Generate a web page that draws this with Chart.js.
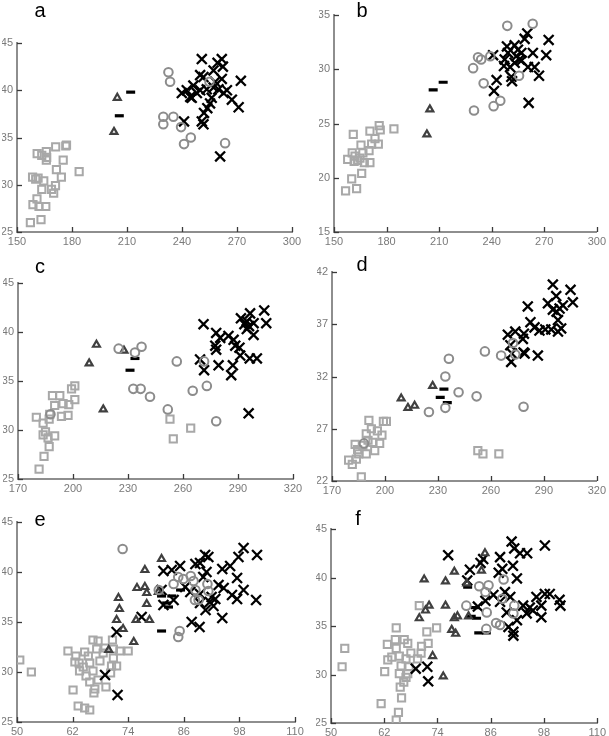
<!DOCTYPE html>
<html><head><meta charset="utf-8">
<script src="https://cdn.jsdelivr.net/npm/chart.js@4/dist/chart.umd.min.js"></script>
<style>
html,body{margin:0;padding:0;background:#fff;}
#wrap{position:relative;width:609px;height:736px;overflow:hidden;background:#fff;}
#wrap canvas{position:absolute;left:0;top:0;}
.lbl{position:absolute;font:20px "Liberation Sans",Arial,sans-serif;color:#000;line-height:1;transform:translate(-50%,-50%);}
</style></head><body><div id="wrap"></div>
<script>
// ---------- tick labels ----------
const ticksX_ab = [150,180,210,240,270,300];
const ticksX_cd = [170,200,230,260,290,320];
const ticksX_ef = [50,62,74,86,98,110];
const ticksY_a = [25,30,35,40,45];
const ticksY_b = [15,20,25,30,35];
const ticksY_c = [25,30,35,40,45];
const ticksY_d = [22,27,32,37,42];
const ticksY_ef = [25,30,35,40,45];
const panelNames = ['a','b','c','d','e','f'];

// ---------- panel a ----------
const a_squares = [[157.3,26.0],[163.1,26.3],[160.9,28.5],[158.7,27.9],[162,27.7],[165.7,27.7],[160.2,30.6],[161.5,30.7],[164.6,30.4],[163.5,29.5],[168.8,29.5],[170,29.1],[171,29.9],[174.2,30.8],[171.5,31.6],[175.2,32.6],[166,32.6],[166.2,32.9],[161,33.3],[166,33.5],[171.1,34.0],[176.6,34.1],[177,34.2],[183.9,31.4],[163.5,33.1],[158.5,30.8]];
const a_triangles = [[204.7,39.2],[202.9,35.6]];
const a_dashes = [[212,39.8],[205.8,37.3]];
const a_circles = [[232.6,41.9],[233.5,40.9],[229.8,37.2],[235.3,37.2],[229.8,36.4],[239.5,36.1],[244.8,35.0],[241.1,34.3],[263.5,34.4],[255,40.9]];
const a_crosses = [[250.8,43.3],[261.7,43.3],[259.4,42.9],[262.3,42.5],[249.9,41.6],[257.2,42.1],[272.1,41.0],[261.7,41.2],[246.2,40.5],[242.6,40.0],[239.9,39.7],[244.5,39.3],[248.1,39.7],[249.9,40.0],[253.5,40.1],[257.2,40.3],[259.9,40.1],[264.5,40.0],[262.7,39.7],[267.2,39.0],[270.9,38.2],[256.2,39.2],[255.3,38.6],[253.8,38.1],[252,37.6],[250.8,36.7],[251.7,36.4],[241.1,36.7],[260.8,33.0],[245.3,39.2],[258.1,40.9],[251.7,41.4]];

// ---------- panel b ----------
const b_squares = [[156.6,18.8],[160.1,19.9],[162.9,19.0],[165.8,20.4],[157.8,21.7],[162,22.0],[164.8,21.8],[160.4,22.3],[165.4,23.0],[167.3,21.4],[170.5,21.4],[170,22.5],[171.5,23.1],[175.3,23.1],[173.4,23.6],[170.5,24.3],[175.8,24.8],[176.4,24.4],[184.2,24.5],[161,24.0],[163.5,21.6],[166.5,22.3],[161.5,21.5]];
const b_triangles = [[204.7,26.3],[203,24.0]];
const b_dashes = [[206.6,28.1],[212.3,28.8]];
const b_circles = [[229.9,26.2],[229.4,30.1],[232.2,31.1],[234,30.9],[235.4,28.7],[239.2,31.2],[241.1,26.6],[244.9,27.1],[248.9,34.0],[263.4,34.2],[255.6,29.4]];
const b_crosses = [[240.8,31.3],[241.3,28.0],[242.8,29.0],[247.4,30.9],[247,30.3],[248.7,32.1],[251.2,29.3],[251.6,28.9],[253.1,32.2],[255,31.8],[256.9,31.5],[255.9,30.9],[253.1,30.6],[258.8,32.8],[260.3,33.3],[261.1,26.9],[263.5,31.5],[264.5,30.2],[267,29.4],[272.5,32.7],[271.1,31.3],[249.3,31.5],[254,31.2],[260.7,30.2],[257,30.8],[250.5,30.2]];

// ---------- panel c ----------
const c_squares = [[181.5,26.0],[184.2,27.3],[187,28.3],[186.4,29.2],[183.7,29.5],[190,29.4],[180,31.3],[183.7,30.7],[187,31.1],[187.3,31.6],[190,32.5],[193.7,31.4],[197.3,31.5],[194.6,32.7],[197.7,32.6],[188.8,33.5],[192.8,33.5],[201,33.1],[199.2,34.2],[201,34.5],[252.9,31.1],[254.7,29.1],[264.2,30.2],[185,29.8]];
const c_triangles = [[212.8,38.7],[208.8,36.8],[216.5,32.1],[227.8,38.1]];
const c_dashes = [[233.8,37.3],[231.1,36.1]];
const c_circles = [[187.7,31.6],[224.9,38.3],[233.8,37.9],[237.4,38.5],[232.9,34.2],[236.9,34.2],[242,33.4],[251.7,32.1],[256.6,37.0],[265.3,34.0],[273,34.5],[271.5,37.0],[278.1,30.9]];
const c_crosses = [[271.2,40.8],[269.3,37.2],[271.5,36.1],[278.1,39.9],[277.6,38.6],[278.1,38.2],[279.4,36.6],[280.3,39.4],[284.8,39.6],[287.6,39.2],[288.5,38.6],[287.2,36.6],[286.3,35.6],[290.8,38.4],[291.2,37.6],[291.6,41.4],[294.8,41.1],[296.6,41.9],[298.5,40.9],[294.8,40.3],[298.5,39.7],[296.4,37.3],[300.3,37.3],[295.8,31.7],[304.3,42.2],[305.4,40.9],[293.5,40.8],[296,40.6]];

// ---------- panel d ----------
const d_squares = [[186.6,22.4],[179.4,24.0],[181.5,23.6],[183.8,24.1],[189.4,24.6],[185.1,24.6],[183.1,25.5],[187.5,25.4],[190.4,25.9],[194.2,24.9],[193.2,25.7],[189.4,26.5],[192.3,27.0],[195.7,26.8],[198.3,26.4],[197,25.6],[190.9,27.8],[199.1,27.7],[200.8,27.7],[252.6,24.9],[255.5,24.6],[264.5,24.6],[184.5,25.0]];
const d_triangles = [[209.2,29.9],[213,29.0],[216.8,29.2],[227,31.1]];
const d_dashes = [[233.4,30.8],[231.3,30.0],[235.3,29.5]];
const d_circles = [[188.1,25.6],[224.9,28.6],[234.2,32.0],[236.2,33.7],[234.2,29.0],[241.7,30.5],[251.9,30.1],[256.6,34.4],[265.8,34.0],[272.5,35.2],[273.8,34.1],[278.5,29.1]];
const d_crosses = [[269.6,36.0],[273.8,36.3],[278.7,36.1],[278.1,35.6],[279.1,34.2],[271.9,34.2],[271.5,33.4],[286.6,34.0],[280.9,38.7],[282.4,37.2],[284.7,36.7],[287.5,36.4],[290.8,36.5],[295.1,40.8],[297,39.7],[292.3,39.0],[295.1,38.4],[298.9,38.5],[300.8,38.8],[298,37.4],[299.8,36.6],[298,36.3],[305.1,40.3],[306.4,39.1],[294.2,36.5],[297.2,38.2],[278.5,34.3],[271,35.0]];

// ---------- panel e ----------
const e_squares = [[50.6,31.2],[53.1,30.0],[61,32.1],[62.1,28.2],[63.2,26.6],[64.6,26.4],[65.7,26.2],[62.7,31.6],[63.4,30.9],[64.6,32.0],[63.5,30.1],[64.9,29.6],[65.7,29.0],[66.6,27.9],[66.8,28.3],[66.4,30.1],[67.5,29.2],[67.9,31.1],[67.2,32.3],[66.4,33.2],[67.5,33.1],[68.6,31.9],[69.2,28.5],[70.2,29.9],[70.4,30.6],[71.5,30.6],[70.8,31.4],[72.2,32.1],[70.6,33.2],[74,32.1],[65.4,31.6],[65.7,30.9],[64.3,30.5],[62.5,31.0],[69,32.4],[70.8,32.3]];
const e_triangles = [[69.8,32.2],[75.2,33.0],[72.9,34.3],[71.5,35.2],[72.1,36.3],[71.9,37.4],[75.7,35.2],[75.9,38.4],[77.6,38.5],[78,37.9],[78,36.8],[78.6,35.2],[77.6,40.2],[81.2,41.3],[80.5,38.0]];
const e_dashes = [[81.2,34.1],[81.2,37.6],[82.3,36.9],[83.4,37.6],[82.7,36.5],[85.3,38.2]];
const e_circles = [[72.8,42.3],[80.6,38.2],[83.8,38.8],[84.8,39.5],[85.9,39.3],[87.5,39.6],[88.1,39.1],[88.5,38.2],[88.4,37.2],[89.2,37.2],[91.1,38.8],[91.3,38.1],[85.1,34.1],[84.8,33.5]];
const e_crosses = [[71.7,27.7],[69,29.7],[71.5,34.0],[76.9,35.5],[81.6,40.1],[81.2,38.2],[81.6,36.7],[83.4,40.2],[83.8,37.2],[85.2,40.6],[86.3,38.5],[87.7,35.0],[89.4,34.5],[88.5,40.8],[89.5,40.9],[90.6,41.7],[91.3,41.5],[90.2,39.5],[90.9,40.0],[90.7,36.2],[92,37.5],[92.8,37.3],[93.5,38.7],[94.3,40.3],[94.6,38.4],[94.3,35.4],[96,40.6],[97.8,41.5],[98.9,42.4],[101.8,41.7],[97.5,39.4],[96.4,37.7],[97.5,37.3],[98.9,38.2],[101.6,37.2],[92.4,36.6],[89.5,36.9],[91.6,37.0],[87.4,38.0],[89.5,37.8]];

// ---------- panel f ----------
const f_squares = [[52.5,30.8],[53.1,32.7],[61.3,27.0],[65.2,26.1],[64.7,25.3],[62.1,30.3],[62.8,31.5],[63.7,31.8],[62.7,33.1],[64.7,34.8],[64.5,33.6],[64.7,32.7],[65.4,30.1],[65.6,28.7],[65.9,27.6],[66.4,29.2],[66.5,33.6],[67.3,33.2],[66.9,31.6],[65.8,30.9],[67.6,30.8],[68,32.2],[69.5,31.6],[70.3,32.2],[70.4,32.9],[71.9,33.2],[71.6,34.4],[73.8,34.8],[69.9,37.1],[67.3,30.1],[66.9,29.7],[65.4,31.9]];
const f_triangles = [[71,39.8],[72.1,37.1],[71.3,36.6],[69.9,35.8],[72.9,31.9],[75.3,29.8],[75.8,37.1],[75.8,39.6],[77.8,40.6],[77.2,34.6],[78.1,34.2],[78.5,36.0],[77.8,35.8],[81,36.0],[80.6,39.4],[83.9,40.7],[84.7,42.5]];
const f_dashes = [[80.8,39.0],[82.5,36.9],[82.8,35.8],[83.3,34.3],[85,34.3],[81.6,36.0]];
const f_circles = [[80.5,37.1],[83.4,39.1],[85.5,39.2],[84.8,38.5],[85.1,36.4],[85,34.7],[87.2,35.3],[88.1,35.1],[88.6,37.8],[88.9,39.8],[91.3,37.1],[91.1,36.3]];
const f_crosses = [[76.4,42.3],[81.3,40.8],[80.7,39.7],[83.7,41.5],[84.3,41.9],[88.1,42.1],[90.7,43.7],[91.3,43.0],[92.6,42.5],[94.2,42.5],[98.2,43.3],[87.8,40.5],[88.6,40.9],[91,41.2],[91.9,39.9],[83.1,37.0],[84.8,37.6],[86.6,38.2],[88.1,37.5],[89.2,38.5],[90.4,38.0],[89.6,36.4],[90,34.9],[91.1,34.4],[91.1,34.0],[91.9,35.6],[93.3,37.1],[94.1,36.3],[94.8,36.9],[95.5,36.6],[96.3,38.0],[97.4,37.1],[97.4,35.9],[98.2,38.3],[99.3,38.3],[101.5,37.7],[101.7,37.1],[69.1,30.6],[71.7,30.8],[71.9,29.3]];

// ---------- panel frames (pixel layout) ----------
const frames = [
  {L:17, R:292, T:43, B:232, lx:40, ly:10},
  {L:334,R:597, T:15, B:232, lx:362, ly:10},
  {L:18, R:293, T:283,B:479, lx:40, ly:266},
  {L:332,R:597, T:272,B:481, lx:362, ly:264},
  {L:17, R:295, T:522,B:722, lx:40, ly:519},
  {L:331,R:600, T:529,B:723, lx:358, ly:518}
];
const panels = [
  {sq:a_squares,tr:a_triangles,da:a_dashes,ci:a_circles,cr:a_crosses,xt:ticksX_ab,yt:ticksY_a},
  {sq:b_squares,tr:b_triangles,da:b_dashes,ci:b_circles,cr:b_crosses,xt:ticksX_ab,yt:ticksY_b},
  {sq:c_squares,tr:c_triangles,da:c_dashes,ci:c_circles,cr:c_crosses,xt:ticksX_cd,yt:ticksY_c},
  {sq:d_squares,tr:d_triangles,da:d_dashes,ci:d_circles,cr:d_crosses,xt:ticksX_cd,yt:ticksY_d},
  {sq:e_squares,tr:e_triangles,da:e_dashes,ci:e_circles,cr:e_crosses,xt:ticksX_ef,yt:ticksY_ef},
  {sq:f_squares,tr:f_triangles,da:f_dashes,ci:f_circles,cr:f_crosses,xt:ticksX_ef,yt:ticksY_ef}
];

const W = 609, H = 736, YW = 15, XH = 18;
Chart.defaults.font.family = '"Liberation Sans", Arial, sans-serif';
Chart.defaults.font.size = 11;

const inwardTicks = {
  id: 'inwardTicks',
  afterDraw(chart) {
    const ctx = chart.ctx, ca = chart.chartArea, xs = chart.scales.x, ys = chart.scales.y;
    ctx.save();
    ctx.strokeStyle = '#3a3a3a';
    ctx.lineWidth = 1.3;
    xs.ticks.forEach(t => {
      const px = Math.round(xs.getPixelForValue(t.value)) + 0.5;
      ctx.beginPath(); ctx.moveTo(px, ca.bottom); ctx.lineTo(px, ca.bottom - 5); ctx.stroke();
    });
    ys.ticks.forEach(t => {
      const py = Math.round(ys.getPixelForValue(t.value)) + 0.5;
      ctx.beginPath(); ctx.moveTo(ca.left, py); ctx.lineTo(ca.left + 5, py); ctx.stroke();
    });
    ctx.restore();
  }
};

const toPts = arr => arr.map(p => ({x: p[0], y: p[1]}));
const wrap = document.getElementById('wrap');

panels.forEach((p, i) => {
  const f = frames[i];
  const cv = document.createElement('canvas');
  cv.width = W; cv.height = H;
  cv.style.width = W + 'px'; cv.style.height = H + 'px';
  wrap.appendChild(cv);
  const lbl = document.createElement('div');
  lbl.className = 'lbl';
  lbl.textContent = panelNames[i];
  lbl.style.left = f.lx + 'px';
  lbl.style.top = f.ly + 'px';
  wrap.appendChild(lbl);

  const axisCommon = (ticksArr) => ({
    type: 'linear',
    min: ticksArr[0], max: ticksArr[ticksArr.length - 1],
    afterBuildTicks: s => { s.ticks = ticksArr.map(v => ({value: v})); },
    grid: {display: false, drawTicks: false},
    border: {display: true, color: '#8e8e8e', width: 2},
    ticks: {color: '#7a7a7a', padding: 3, autoSkip: false, maxRotation: 0, font: {size: 11}}
  });
  const xAxis = axisCommon(p.xt);
  xAxis.afterFit = s => { s.height = XH; };
  const yAxis = axisCommon(p.yt);
  yAxis.afterFit = s => { s.width = YW; };
  yAxis.ticks.padding = 4;

  new Chart(cv, {
    type: 'scatter',
    data: {
      datasets: [
        {label: 'circles', data: toPts(p.ci), pointStyle: 'circle', pointRadius: 4.3, borderColor: '#8c8c8c', backgroundColor: 'rgba(0,0,0,0)', borderWidth: 2},
        {label: 'triangles', data: toPts(p.tr), pointStyle: 'triangle', pointRadius: 4, borderColor: '#404040', backgroundColor: 'rgba(0,0,0,0)', borderWidth: 2.2},
        {label: 'dashes', data: toPts(p.da), pointStyle: 'line', pointRadius: 4.5, borderColor: '#000', backgroundColor: '#000', borderWidth: 3.2},
        {label: 'crosses', data: toPts(p.cr), pointStyle: 'crossRot', pointRadius: 7, borderColor: '#000', backgroundColor: '#000', borderWidth: 2.3},
        {label: 'squares', data: toPts(p.sq), pointStyle: 'rect', pointRadius: 5.1, borderColor: '#a8a8a8', backgroundColor: 'rgba(0,0,0,0)', borderWidth: 2}
      ]
    },
    options: {
      responsive: false,
      animation: false,
      devicePixelRatio: 1,
      events: [],
      layout: {padding: {left: f.L - YW, right: W - f.R, top: f.T, bottom: H - f.B - XH}},
      plugins: {legend: {display: false}, tooltip: {enabled: false}},
      scales: {x: xAxis, y: yAxis}
    },
    plugins: [inwardTicks]
  });
});
</script></body></html>
